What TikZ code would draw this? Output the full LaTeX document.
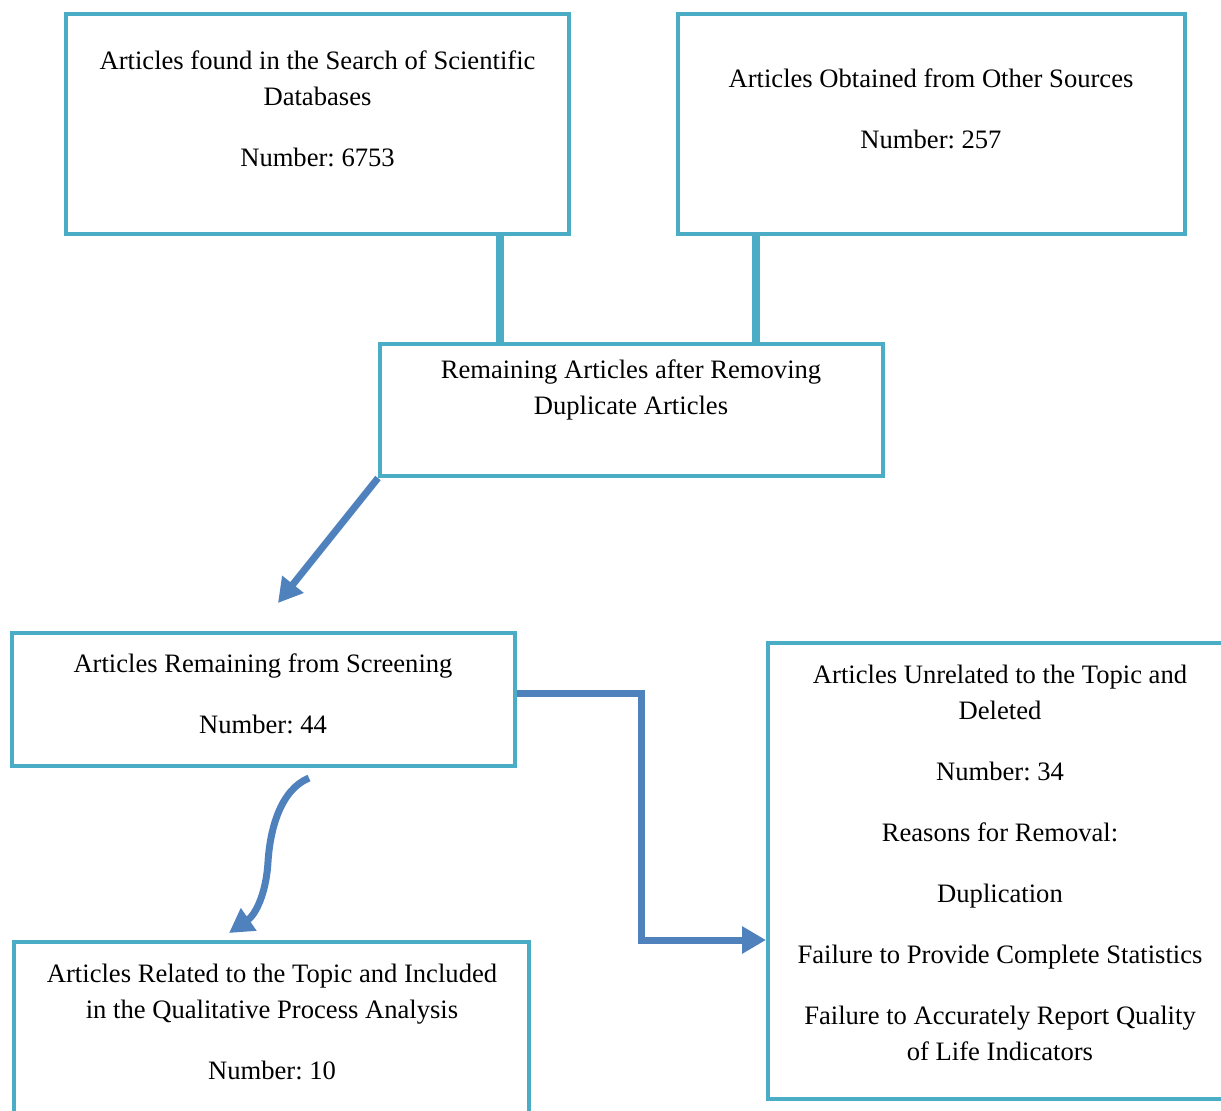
\documentclass[tikz,border=0pt]{standalone}
\usepackage{fontspec}
\setmainfont{Liberation Serif}
\usetikzlibrary{arrows.meta}
\definecolor{boxteal}{HTML}{4BACC6}
\definecolor{flowblue}{HTML}{4F81BD}
\frenchspacing

\begin{document}
\begin{tikzpicture}[x=0.5pt,y=-0.5pt,
  box/.style={draw=boxteal,line width=2pt,inner sep=0pt},
  txt/.style={align=center,font=\fontsize{13.3}{18}\selectfont,inner sep=0pt},
  link/.style={draw=boxteal,line width=4pt},
  flow/.style={draw=flowblue,line width=3.5pt,-{Triangle[length=12pt,width=13pt]}}]
\useasboundingbox (0,0) rectangle (1221,1110);
\coordinate (dropA) at (500,0);
\coordinate (dropB) at (756,0);
\coordinate (screenTip) at (278,603);
\coordinate (elbow) at (641,940);
\coordinate (curveStart) at (309,778);
\coordinate (curveMid) at (268,862);
\coordinate (curveEnd) at (229,933);
\node[box,minimum width=251.5pt,minimum height=110pt] (dbbox) at (317.5,124){};
\node[box,minimum width=253.5pt,minimum height=110pt] (otherbox) at (931.5,124){};
\node[box,minimum width=251.5pt,minimum height=66pt] (dupbox) at (631.5,410){};
\node[box,minimum width=251.5pt,minimum height=66.5pt] (screenbox) at (263.5,699.5){};
\node[box,minimum width=232pt,minimum height=228pt] (deletedbox) at (1000,871){};
\node[box,minimum width=257.5pt,minimum height=99pt] (includedbox) at (271.5,1041){};
\node[txt] (dbtext) at (317.5,108.5){Articles found in the Search of Scientific\\Databases\\[12.5pt]Number: 6753};
\node[txt] (othertext) at (931,109){Articles Obtained from Other Sources\\[12.5pt]Number: 257};
\node[txt] (duptext) at (631,390){Remaining Articles after Removing\\Duplicate Articles};
\node[txt] (screentext) at (263,694){Articles Remaining from Screening\\[12.5pt]Number: 44};
\node[txt] (deletedtext) at (1000,862.5){Articles Unrelated to the Topic and\\Deleted\\[12.5pt]Number: 34\\[12.5pt]Reasons for Removal:\\[12.5pt]Duplication\\[12.5pt]Failure to Provide Complete Statistics\\[12.5pt]Failure to Accurately Report Quality\\of Life Indicators};
\node[txt] (includedtext) at (272,1022){Articles Related to the Topic and Included\\in the Qualitative Process Analysis\\[12.5pt]Number: 10};
\draw[link] (dbbox.south -| dropA) -- (dupbox.north -| dropA);
\draw[link] (otherbox.south -| dropB) -- (dupbox.north -| dropB);
\draw[flow] (dupbox.south west) -- (screenTip);
\draw[flow] ([yshift=3.25pt]screenbox.east) -| (elbow) -- (elbow -| deletedbox.west);
\draw[flow] (curveStart) .. controls (280,790) and (270,830) .. (curveMid) .. controls (266,895) and (255,915) .. (curveEnd);
\end{tikzpicture}
\end{document}
